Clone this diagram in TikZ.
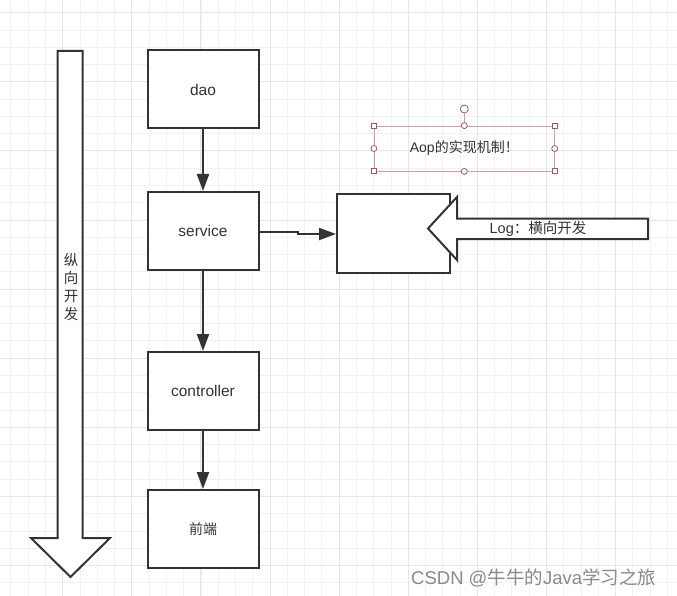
\documentclass[tikz,border=0pt]{standalone}
\usepackage{fontspec}
\setmainfont{Liberation Sans}
\newfontfamily\cjk{Noto Sans CJK SC}
\usetikzlibrary{arrows.meta}
\definecolor{ink}{HTML}{333333}
\definecolor{gridminor}{HTML}{F2F2F2}
\definecolor{gridmajor}{HTML}{E6E6E6}
\definecolor{selline}{HTML}{C8A0A8}
\definecolor{selhandle}{HTML}{A05868}
\definecolor{mark}{HTML}{8A8A8A}
\tikzset{
  layer/.style={draw=ink, line width=2pt, fill=white, minimum width=111pt,
    minimum height=78pt, inner sep=0pt, text=ink, font=\fontsize{15.5}{18}\selectfont},
  flow/.style={draw=ink, line width=2pt, -{Triangle[length=17pt,width=12pt]}},
  bigarrow/.style={draw=ink, line width=2pt, fill=white, line join=miter},
  sqhandle/.style={draw=selhandle, fill=white, line width=0.8pt, minimum size=5pt,
    inner sep=0pt},
  rdhandle/.style={draw=selhandle, fill=white, line width=0.8pt, circle,
    minimum size=6pt, inner sep=0pt},
}
\begin{document}
\begin{tikzpicture}[x=1pt, y=-1pt]
  \useasboundingbox (0,0) rectangle (677,596);
  \fill[white] (0,0) rectangle (677,596);
  % background grid
  \foreach \i in {0,...,40} {
    \draw[gridminor, line width=0.8pt] ({-6.4+17.275*\i},0) -- ({-6.4+17.275*\i},596);
    \draw[gridminor, line width=0.8pt] (0,{12.65+17.275*\i-17.275}) -- (677,{12.65+17.275*\i-17.275});
  }
  \foreach \i in {0,...,10} {
    \draw[gridmajor, line width=0.9pt] ({-6.4+69.1*\i},0) -- ({-6.4+69.1*\i},596);
    \draw[gridmajor, line width=0.9pt] (0,{12.65+69.1*\i}) -- (677,{12.65+69.1*\i});
  }

  % vertical development arrow
  \draw[bigarrow] (57.5,51) -- (82.5,51) -- (82.5,538) -- (110,538) -- (70.5,577)
    -- (31,538) -- (57.5,538) -- cycle;
  \node[text=ink, align=center, inner sep=0pt, font={\cjk\fontsize{14.5}{18}\selectfont}]
    (vlabel) at (71,287) {纵\\向\\开\\发};

  % layers
  \node[layer] (dao) at (203,89.5) {dao};
  \node[layer] (service) at (203,231) {service};
  \node[layer] (controller) at (203,391) {controller};
  \node[layer, font={\cjk\fontsize{14}{18}\selectfont}] (front) at (203,529) {前端};
  \node[layer, minimum width=113pt, minimum height=79pt] (aspect) at (393.5,233.5) {};

  \draw[flow] (dao) -- (service);
  \draw[flow] (service) -- (controller);
  \draw[flow] (controller) -- (front);
  \coordinate (jogA) at (297.5,231.5);
  \coordinate (jogB) at (297.5,234);
  \draw[flow] (service.east |- jogA) -- (jogA) -- (jogB) -- (aspect.west |- jogB);

  % horizontal development arrow
  \draw[bigarrow] (428,228.5) -- (457,197) -- (457,218.5) -- (648,218.5) -- (648,239)
    -- (457,239) -- (457,260) -- cycle;
  \node[text=ink, font=\fontsize{14.5}{17}\selectfont] (hlabel) at (538,229)
    {Log{\cjk ：横向开发}};

  % selected text box
  \node[draw=selline, line width=0.8pt, minimum width=180pt, minimum height=45pt,
    inner sep=0pt, text=ink, font=\fontsize{14}{17}\selectfont] (aop) at (464.3,148.5)
    {Aop{\cjk 的实现机制！}};
  \node[rdhandle, minimum size=8pt] (rot) at (464.3,109) {};
  \draw[selline, line width=0.8pt] (rot) -- (aop.north);
  \foreach \a in {north west, north east, south west, south east}
    \node[sqhandle] at (aop.\a) {};
  \foreach \a in {north, south, west, east}
    \node[rdhandle] at (aop.\a) {};

  % watermark
  \node[anchor=west, text=mark, inner sep=0pt, font=\fontsize{18.5}{22}\selectfont]
    (wm) at (411,578) {CSDN @{\cjk 牛牛的}Java{\cjk 学习之旅}};
\end{tikzpicture}
\end{document}
